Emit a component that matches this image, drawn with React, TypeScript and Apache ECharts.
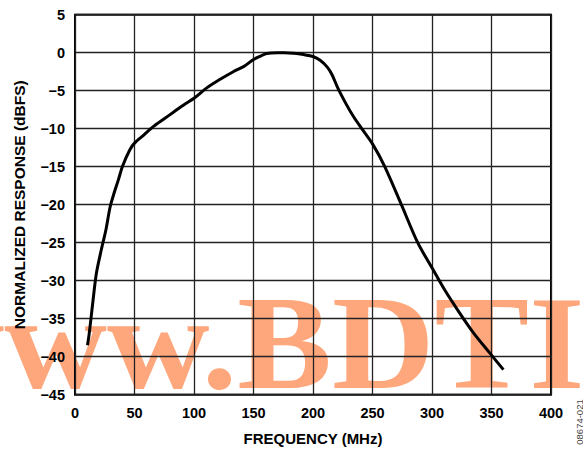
import React, { useEffect, useRef } from "react";
import * as echarts from "echarts";

const frequencyMHz = [
  10.5, 12, 15, 18, 22, 26, 29.5, 33, 36.5, 40, 46, 50, 58, 66, 75, 83, 91, 100,
  111, 122, 133, 142, 150, 156, 161, 170, 176, 184, 192, 200, 206, 212, 216, 221,
  228, 234, 241, 250, 260, 274, 288, 300, 311, 323, 335, 349, 360,
];
const responseDbfs = [
  -38.5, -36.9, -32.8, -29.0, -26.0, -23.3, -20.3, -18.4, -16.7, -14.9, -12.8,
  -11.9, -10.8, -9.7, -8.7, -7.8, -6.9, -6.0, -4.6, -3.5, -2.5, -1.8, -0.9,
  -0.45, -0.1, 0.0, 0.0, -0.08, -0.25, -0.5, -1.0, -1.9, -2.9, -4.7, -6.8, -8.4,
  -10.0, -12.0, -14.9, -19.9, -25.0, -28.3, -31.3, -34.2, -36.9, -39.6, -41.7,
];
const xAxisTitle = "FREQUENCY (MHz)";
const yAxisTitle = "NORMALIZED RESPONSE (dBFS)";
const figureCode = "08674-021";
const watermark = "www.BDTI";

export default function App() {
  const ref = useRef<HTMLDivElement>(null);
  useEffect(() => {
    document.body.style.margin = "0";
    if (!ref.current) return;
    const chart = echarts.init(ref.current, null, { renderer: "svg" });
    const font = "'Liberation Sans', Arial, sans-serif";
    chart.setOption({
      animation: false,
      backgroundColor: "#fff",
      grid: {
        left: 75,
        right: 32,
        top: 14.7,
        bottom: 56.3,
        show: true,
        borderColor: "#000",
        borderWidth: 2,
        backgroundColor: "transparent",
      },
      xAxis: {
        type: "value",
        min: 0,
        max: 400,
        interval: 50,
        name: xAxisTitle,
        nameLocation: "middle",
        nameGap: 36,
        nameTextStyle: { fontFamily: font, fontWeight: "bold", fontSize: 15, color: "#000" },
        axisLine: { show: false },
        axisTick: { show: false },
        axisLabel: { fontFamily: font, fontWeight: "bold", fontSize: 14.5, color: "#000", margin: 11 },
        splitLine: { show: true, lineStyle: { color: "#222", width: 1.3 } },
      },
      yAxis: {
        type: "value",
        min: -45,
        max: 5,
        interval: 5,
        name: yAxisTitle,
        nameLocation: "middle",
        nameGap: 48,
        nameTextStyle: { fontFamily: font, fontWeight: "bold", fontSize: 15.5, color: "#000" },
        axisLine: { show: false },
        axisTick: { show: false },
        axisLabel: {
          fontFamily: font,
          fontWeight: "bold",
          fontSize: 14.5,
          color: "#000",
          margin: 10,
          formatter: (v: number) => (v < 0 ? "\u2212" + Math.abs(v) : String(v)),
        },
        splitLine: { show: true, lineStyle: { color: "#222", width: 1.3 } },
      },
      series: [
        {
          type: "line",
          data: frequencyMHz.map((f, i) => [f, responseDbfs[i]]),
          showSymbol: false,
          smooth: 0.3,
          lineStyle: { color: "#000", width: 3 },
          z: 3,
        },
      ],
      graphic: [
        {
          type: "text",
          x: 579,
          y: 422,
          rotation: Math.PI / 2,
          style: {
            text: figureCode,
            fontFamily: font,
            fontSize: 9.5,
            fill: "#444",
            align: "center",
            verticalAlign: "middle",
          },
        },
        {
          type: "text",
          x: 584.5,
          y: 343,
          z: -5,
          scaleX: 1.06,
          silent: true,
          style: {
            text: watermark,
            fontFamily: "'Liberation Serif', 'Times New Roman', serif",
            fontWeight: "bold",
            fontSize: 134,
            fill: "#FFA77C",
            align: "right",
            verticalAlign: "middle",
          },
        },
      ],
    });
    return () => chart.dispose();
  }, []);
  return <div ref={ref} style={{ width: 583, height: 451 }} />;
}
